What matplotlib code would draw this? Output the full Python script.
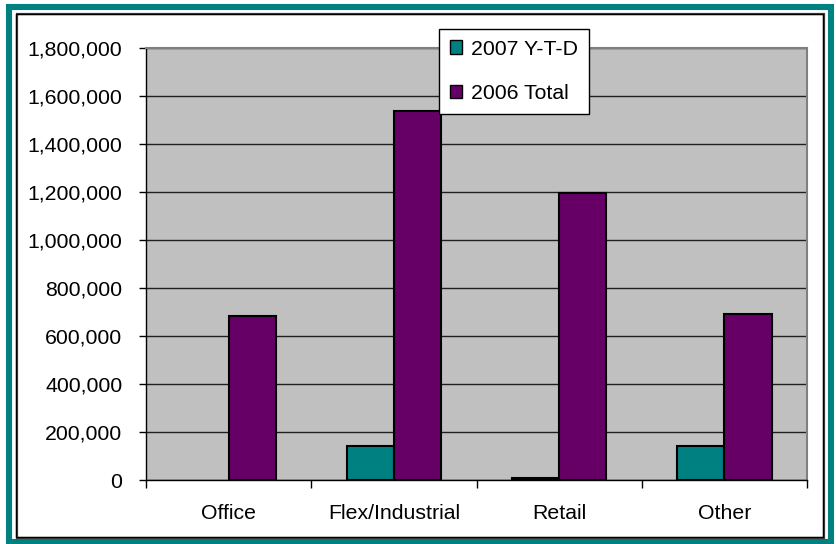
import matplotlib
matplotlib.use("Agg")
import matplotlib.pyplot as plt
import numpy as np
from matplotlib.patches import Rectangle, Patch
from matplotlib.ticker import FuncFormatter, MultipleLocator

categories = ["Office", "Flex/Industrial", "Retail", "Other"]
series_names = ["2007 Y-T-D", "2006 Total"]
ytd_2007 = [0, 143000, 10000, 143000]
total_2006 = [685000, 1537000, 1195000, 692000]
colors = ["#008080", "#660066"]

plt.rcParams['font.family'] = ['Liberation Sans', 'DejaVu Sans']

W, H = 836, 544
fig = plt.figure(figsize=(W/100, H/100), dpi=100)
fig.patch.set_facecolor("white")

# outer teal frame
fig.patches.append(Rectangle((9/W, 1-542/H), (831-9)/W, (542-7)/H, transform=fig.transFigure,
                             fill=False, edgecolor="#008080", linewidth=4.4, zorder=0))
# inner black frame with shadow
fig.patches.append(Rectangle((17/W, 1-538/H), (824-17)/W, (538-14)/H, transform=fig.transFigure,
                             fill=False, edgecolor="#404040", linewidth=1.6, zorder=0))
fig.patches.append(Rectangle((16/W, 1-537/H), (823-16)/W, (537-14)/H, transform=fig.transFigure,
                             fill=False, edgecolor="black", linewidth=1.0, zorder=0))

left, right, top, bottom = 146, 807, 48, 480
ax = fig.add_axes([left/W, 1-bottom/H, (right-left)/W, (bottom-top)/H])
ax.set_facecolor("#C0C0C0")

x = np.arange(len(categories))
bw = 1/3.5
b1 = ax.bar(x - bw/2, ytd_2007, bw, color=colors[0], edgecolor="black", linewidth=1.5, zorder=3)
for rect, v in zip(b1, ytd_2007):
    if v == 0:
        rect.set_visible(False)
ax.bar(x + bw/2, total_2006, bw, color=colors[1], edgecolor="black", linewidth=1.5, zorder=3)

ax.set_xlim(-0.5, len(categories) - 0.5)
ax.set_ylim(0, 1800000)
ax.yaxis.set_major_locator(MultipleLocator(200000))
ax.yaxis.set_major_formatter(FuncFormatter(lambda v, p: f"{int(v):,}"))
ax.grid(axis="y", color="#202020", linewidth=1.0, zorder=1)
ax.set_axisbelow(True)

ax.set_xticks(x)
ax.set_xticklabels(categories, fontsize=15.3)
ax.set_xticks(np.arange(-0.5, len(categories)), minor=True)
ax.tick_params(axis="x", which="major", length=0, pad=17)
ax.tick_params(axis="x", which="minor", length=6, width=1, color="black", direction="out")
ax.tick_params(axis="y", length=5, width=1, color="black", direction="out", labelsize=15.3, pad=12)

for s in ["top", "right"]:
    ax.spines[s].set_color("#808080")
    ax.spines[s].set_linewidth(1.5)
for s in ["left", "bottom"]:
    ax.spines[s].set_color("black")
    ax.spines[s].set_linewidth(1.0)

handles = [Patch(facecolor=c, edgecolor="black", linewidth=1.0) for c in colors]
leg = fig.legend(handles, series_names, loc="upper left", bbox_to_anchor=(439/W, 1-29/H),
                 fontsize=15.3, frameon=True, fancybox=False, shadow=False,
                 handlelength=0.6, handleheight=0.6, handletextpad=0.4,
                 labelspacing=1.2, borderpad=0.5, borderaxespad=0)
leg.get_frame().set_edgecolor("black")
leg.get_frame().set_linewidth(1.0)
leg.get_frame().set_facecolor("white")
leg.get_frame().set_alpha(1)

fig.savefig("out.png", dpi=100)
